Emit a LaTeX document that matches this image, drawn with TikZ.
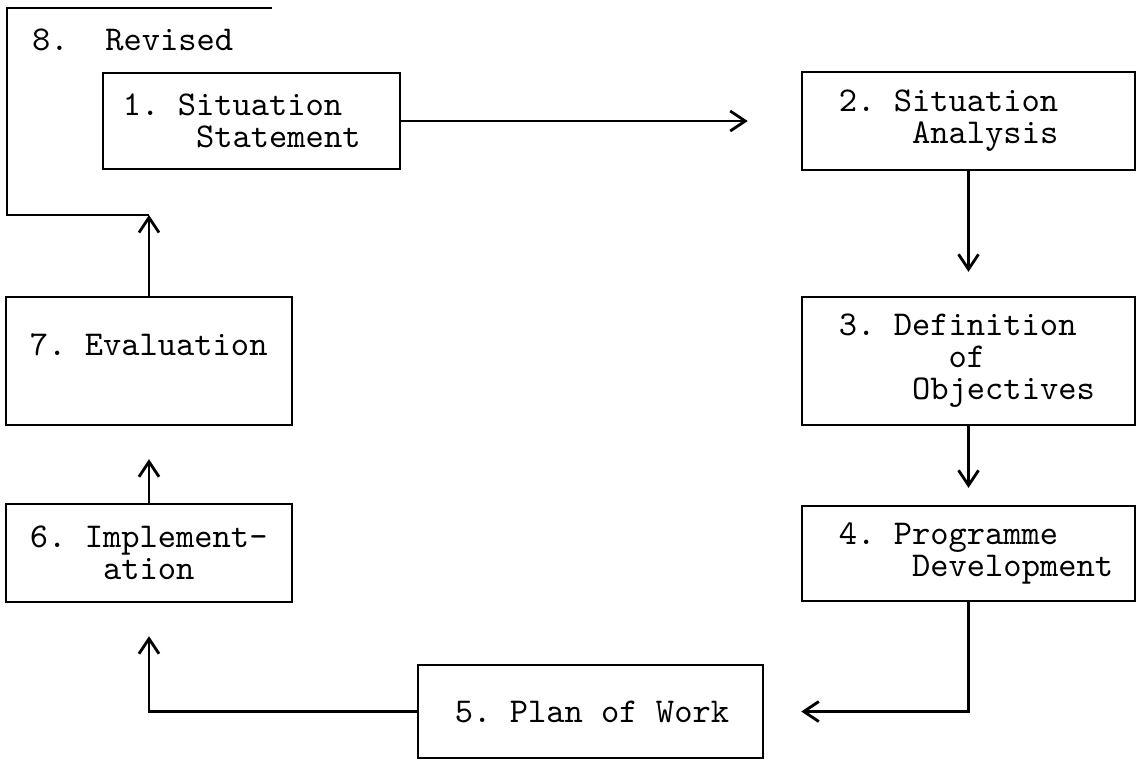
\documentclass[tikz,border=0pt]{standalone}
\usetikzlibrary{arrows.meta,calc}
% typewriter cell: one character of the 9.9pt mono face
\newlength\ttcell
\setlength\ttcell{5.2pt}
\newcommand\gap[1]{\hspace*{#1\ttcell}}

\begin{document}
\begin{tikzpicture}[x=0.01cm,y=-0.01cm,line width=0.65pt,
  font=\ttfamily\fontsize{9.9}{9.1}\selectfont,
  stage/.style={draw,align=left,inner ysep=0pt},
  flow/.style={-{Straight Barb[length=1.5mm,width=2mm,line width=0.8pt]}}]
\useasboundingbox (0,0) rectangle (1140,759);
% ===== right column: 1 -> 2 -> 3 -> 4 =====
\node[stage,minimum width=2.97cm,minimum height=0.96cm,inner xsep=0.2cm,text width=2.57cm]
  (s1) at (251.5,121) {1.\gap1Situation\\\gap4Statement};
\node[stage,minimum width=3.33cm,minimum height=0.98cm,inner xsep=0.37cm,text width=2.59cm]
  (s2) at (968.5,121) {2.\gap1Situation\\\gap4Analysis};
\node[stage,minimum width=3.33cm,minimum height=1.28cm,inner xsep=0.37cm,text width=2.59cm]
  (s3) at (968.5,361) {3.\gap1Definition\\\gap6of\\\gap4Objectives};
\node[stage,minimum width=3.33cm,minimum height=0.95cm,inner xsep=0.37cm,text width=2.59cm]
  (s4) at (968.5,553.5) {4.\gap1Programme\\\gap4Development};
% ===== bottom and left column: 5 -> 6 -> 7 =====
\node[stage,minimum width=3.45cm,minimum height=0.93cm,inner xsep=0.37cm,text width=2.71cm]
  (s5) at (590.5,711.5) {5.\gap1Plan\gap1of\gap1Work};
\node[stage,minimum width=2.86cm,minimum height=0.98cm,inner xsep=0.24cm,text width=2.38cm]
  (s6) at (149,553) {6.\gap1Implement-\\\gap4ation};
\node[stage,minimum width=2.86cm,minimum height=1.28cm,inner xsep=0.24cm,text width=2.38cm]
  (s7) at (149,361) {7.\gap1Evaluation\\~};
% ===== 8: open frame round stage 1 =====
\coordinate (rv) at (149,215);
\draw (272,8) -| (7,215) -- (rv);
\node[anchor=base west,inner sep=0pt] (s8) at (31,50) {8.\gap2Revised};
% connectors
\draw[flow,shorten >=0.53cm] (s1.east) -- (s2.west);
\draw[flow,shorten >=0.24cm] (s2.south) -- (s3.north);
\draw[flow,shorten >=0.17cm] (s3.south) -- (s4.north);
\draw[flow,shorten >=0.37cm] (s4.south) |- (s5.east);
\draw[flow,shorten >=0.33cm] (s5.west) -| (s6.south);
\draw[flow,shorten >=0.33cm] (s6.north) -- (s7.south);
\draw[flow] (s7.north) -- (s7.north |- rv);
\end{tikzpicture}
\end{document}
